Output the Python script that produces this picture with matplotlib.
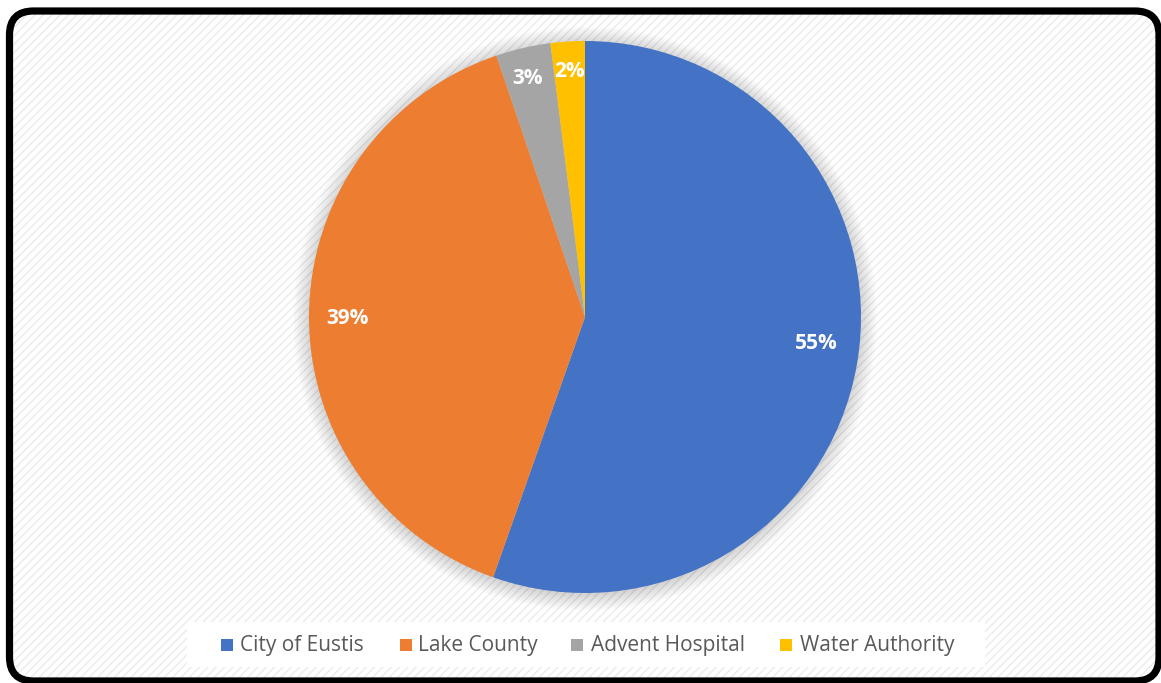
import matplotlib
matplotlib.use("Agg")
import matplotlib.pyplot as plt
from matplotlib.patches import FancyBboxPatch, Rectangle, Circle
import numpy as np

categories = ["City of Eustis", "Lake County", "Advent Hospital", "Water Authority"]
values = [55.4, 39.4, 3.2, 2.0]
colors = ["#4472C4", "#ED7D31", "#A5A5A5", "#FFC000"]

W, H = 1161, 683
fig = plt.figure(figsize=(W / 100, H / 100), dpi=100)

# background axes in pixel coordinates
bg = fig.add_axes([0, 0, 1, 1])
bg.set_xlim(0, W)
bg.set_ylim(H, 0)
bg.axis("off")
bg.add_patch(Rectangle((0, 0), W, H, facecolor="white", edgecolor="none", zorder=0))
box = (9.5, 11, 1149.5, 670)
style = "round,pad=0,rounding_size=24"
bg.add_patch(FancyBboxPatch(box[:2], box[2], box[3], boxstyle=style,
                            facecolor="white", edgecolor="none", zorder=1))
bg.add_patch(FancyBboxPatch(box[:2], box[2], box[3], boxstyle=style,
                            facecolor="none", edgecolor="#ebebeb", hatch="////",
                            linewidth=0, zorder=1.5))
bg.add_patch(FancyBboxPatch(box[:2], box[2], box[3], boxstyle=style,
                            facecolor="none", edgecolor="black", linewidth=5.2, zorder=5))
# legend box
bg.add_patch(Rectangle((187, 622), 798, 45, facecolor="white", edgecolor="none", zorder=2))

# pie axes
cx, cy, r = 585, 317, 276
pax = fig.add_axes([(cx - r) / W, (H - cy - r) / H, 2 * r / W, 2 * r / H])
pax.axis("off")
pax.patch.set_alpha(0)

# soft shadow
for k in range(14):
    pax.add_patch(Circle((0, -0.006), 1.0 + k * 0.0045, facecolor="#000000", alpha=0.013,
                         edgecolor="none", zorder=0, clip_on=False))

wedges, texts, autotexts = pax.pie(values, colors=colors, startangle=90, counterclock=False,
                                   autopct="%.0f%%", pctdistance=0.86, radius=1.0,
                                   wedgeprops=dict(linewidth=0),
                                   textprops=dict(color="white", fontsize=15, fontweight="bold",
                                                  family="Open Sans"))
pax.set_xlim(-1, 1)
pax.set_ylim(-1, 1)
pax.set_aspect("equal")
dists = [0.845, 0.86, 0.89, 0.89]
ang_off = [3.3, 0.7, 0.5, 0.1]
for w, t, d, o in zip(wedges, autotexts, dists, ang_off):
    ang = np.deg2rad((w.theta1 + w.theta2) / 2 + o)
    t.set_position((d * np.cos(ang), d * np.sin(ang)))
    t.set_zorder(10)
for w in wedges:
    w.set_zorder(3)

# legend
mx = [221, 400, 571, 780]
tx = [240, 418.5, 591, 800]
for m, x, c, lab in zip(mx, tx, colors, categories):
    bg.add_patch(Rectangle((m, 639), 12, 12, facecolor=c, edgecolor="none", zorder=3))
    bg.text(x, 645, lab, fontsize=15, color="#595959", va="center", ha="left",
            family="Open Sans", zorder=3)

fig.savefig("out.png", dpi=100)
